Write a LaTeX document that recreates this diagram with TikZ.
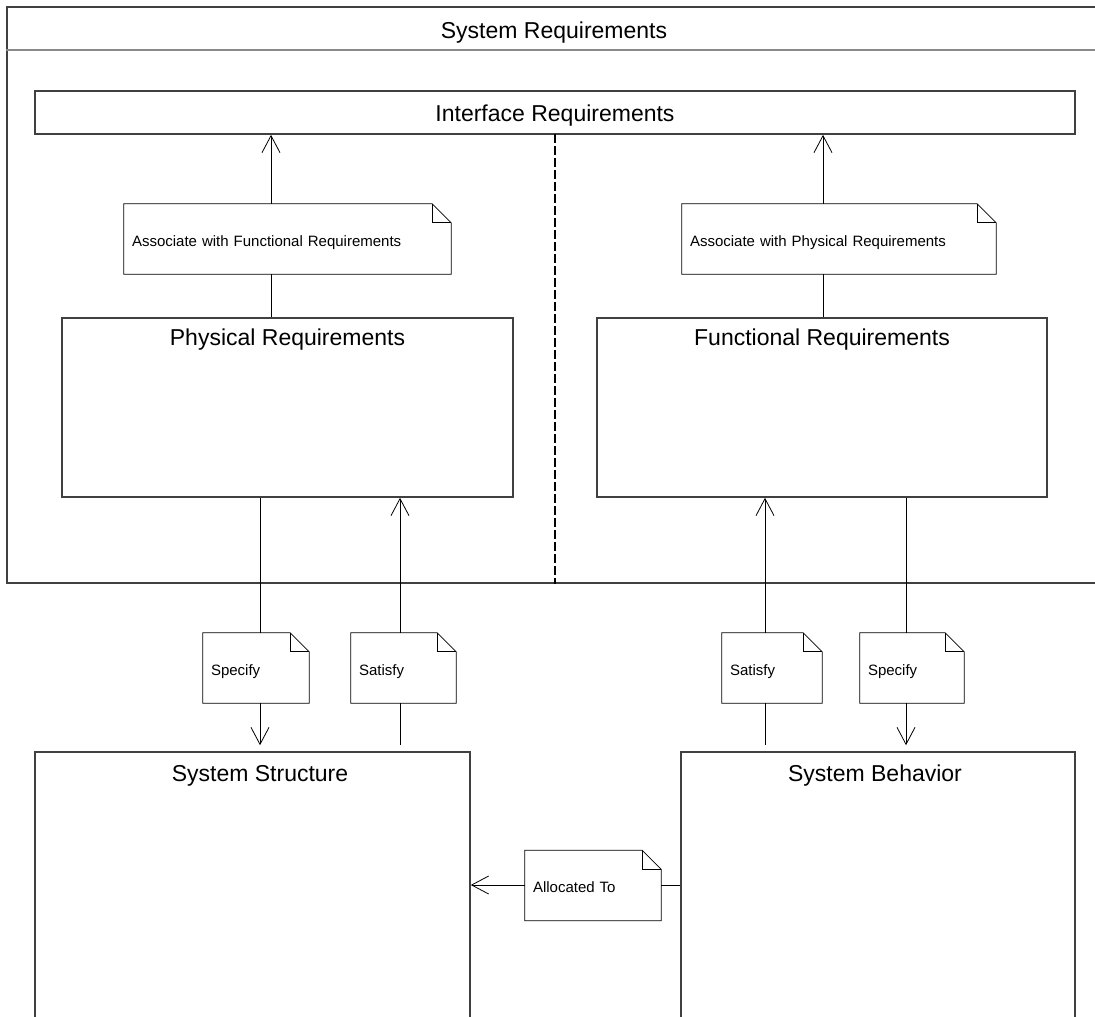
\documentclass[tikz,border=0pt]{standalone}
\usepackage{fontspec}
\setmainfont{Liberation Sans}
\usetikzlibrary{arrows.meta}
\definecolor{boxgray}{HTML}{404040}
\definecolor{sepgray}{HTML}{8A8A8A}
\tikzset{
  big/.style={font=\fontsize{23}{27}\selectfont, text height=23pt, text depth=5pt},
  block/.style={draw=boxgray, line width=1.6pt, inner sep=0pt},
  conn/.style={draw=black, line width=0.8pt},
  arr/.style={-{Straight Barb[length=17pt,width=18pt]}},
  note/.style={font=\fontsize{15}{18}\selectfont, inner xsep=8pt, inner ysep=0pt,
    minimum height=70pt, align=left, text width=#1, text height=17pt, text depth=3pt,
    append after command={\pgfextra{\let\ln\tikzlastnode
      \draw[black, line width=0.8pt]
        (\ln.south west) -- (\ln.north west) -- ([xshift=-19pt]\ln.north east)
        -- ([yshift=-19pt]\ln.north east) -- (\ln.south east) -- cycle;
      \draw[black, line width=0.8pt]
        ([xshift=-19pt]\ln.north east) |- ([yshift=-19pt]\ln.north east);}}},
}
\begin{document}
\begin{tikzpicture}[x=1pt, y=-1pt]
\useasboundingbox (0,0) rectangle (1095,1017);
\clip (0,0) rectangle (1095,1017);
\fill[white] (0,0) rectangle (1095,1017);

% outer container
\node[block, minimum width=1103pt, minimum height=576pt] (outer) at (558.5,295) {};
\draw[sepgray, line width=1.3pt] (outer.west |- 0,50) -- (outer.east |- 0,50);
\node[big] (title) at (554,29) {System Requirements};

% interface
\node[block, big, minimum width=1040pt, minimum height=43pt] (iface) at (555,112.5) {Interface Requirements};

% requirement blocks
\node[block, minimum width=451pt, minimum height=179pt] (phys) at (287.5,407.5) {};
\node[big] (physT) at ([yshift=-19pt]phys.north) {Physical Requirements};
\node[block, minimum width=450pt, minimum height=179pt] (func) at (822,407.5) {};
\node[big] (funcT) at ([yshift=-19pt]func.north) {Functional Requirements};

% system blocks
\node[block, minimum width=435pt, minimum height=300pt] (struct) at (252.5,902) {};
\node[big] (structT) at ([yshift=-21pt]struct.north -| 260,0) {System Structure};
\node[block, minimum width=394pt, minimum height=300pt] (beh) at (878,902) {};
\node[big] (behT) at ([yshift=-21pt]beh.north -| 875,0) {System Behavior};

% notes
\node[note=311pt] (nAF) at (287.5,239) {Associate with Functional Requirements};
\node[note=298pt] (nAP) at (839,239) {Associate with Physical Requirements};
\node[note=90pt] (nSpL) at (256,668) {Specify};
\node[note=89pt] (nSaL) at (403.5,668) {Satisfy};
\node[note=84pt] (nSaR) at (772,668) {Satisfy};
\node[note=88pt] (nSpR) at (912,668) {Specify};
\node[note=120pt] (nAl) at (593,885.5) {Allocated To};

% dashed divider
\coordinate (dtop) at (555,134);
\draw[black, line width=1.6pt, dash pattern=on 9pt off 3pt] (dtop) -- (dtop |- outer.south);

% connector x positions
\coordinate (xa) at (271,0);
\coordinate (xb) at (823,0);
\coordinate (xc) at (260,0);
\coordinate (xd) at (400,0);
\coordinate (xe) at (765,0);
\coordinate (xf) at (906,0);
\coordinate (ya) at (0,885);

% upper connectors
\draw[conn] (xa |- phys.north) -- (xa |- nAF.south);
\draw[conn, arr] (xa |- nAF.north) -- (xa |- iface.south);
\draw[conn] (xb |- func.north) -- (xb |- nAP.south);
\draw[conn, arr] (xb |- nAP.north) -- (xb |- iface.south);

% lower connectors
\draw[conn] (xc |- phys.south) -- (xc |- nSpL.north);
\draw[conn, arr, shorten >=6pt] (xc |- nSpL.south) -- (xc |- struct.north);
\draw[conn, shorten <=6pt] (xd |- struct.north) -- (xd |- nSaL.south);
\draw[conn, arr] (xd |- nSaL.north) -- (xd |- phys.south);
\draw[conn, shorten <=6pt] (xe |- beh.north) -- (xe |- nSaR.south);
\draw[conn, arr] (xe |- nSaR.north) -- (xe |- func.south);
\draw[conn] (xf |- func.south) -- (xf |- nSpR.north);
\draw[conn, arr, shorten >=6pt] (xf |- nSpR.south) -- (xf |- beh.north);

% allocation
\draw[conn] (beh.west |- ya) -- (nAl.east |- ya);
\draw[conn, arr] (nAl.west |- ya) -- (struct.east |- ya);
\end{tikzpicture}
\end{document}
